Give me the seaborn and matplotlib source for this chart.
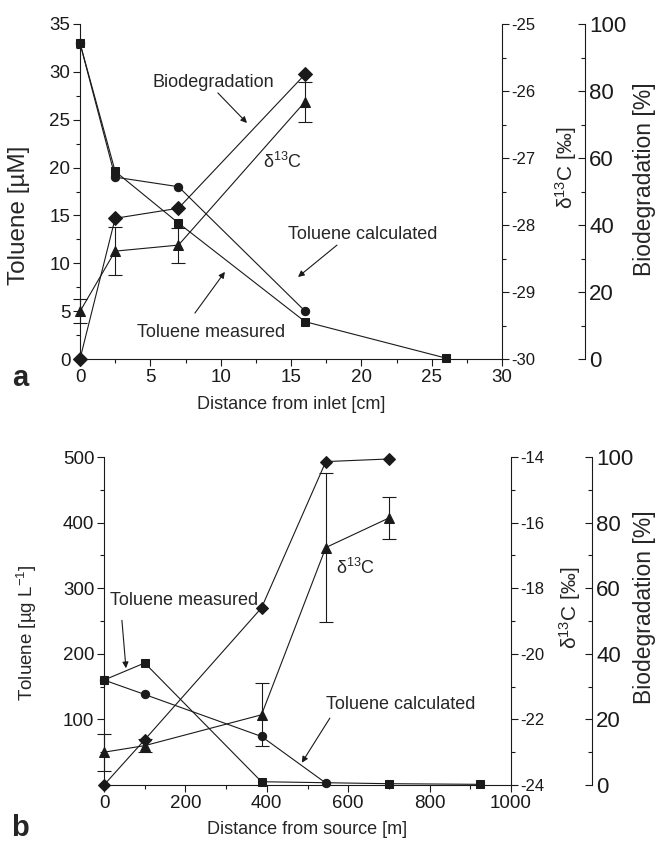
import matplotlib
matplotlib.use("Agg")
import matplotlib.pyplot as plt
import numpy as np
import seaborn as sns
from matplotlib.ticker import MultipleLocator, FixedLocator

# ---- panel a: column experiment ----
a_dist_meas = [0, 2.5, 7, 16, 26]
a_tol_meas = [33, 19.6, 14.2, 3.9, 0.1]
a_dist_calc = [0, 2.5, 7, 16]
a_tol_calc = [33, 19.0, 18.0, 5.0]
a_dist_d13c = [0, 2.5, 7, 16]
a_d13c = [-29.29, -28.39, -28.30, -26.16]
a_d13c_err = [0.18, 0.36, 0.26, 0.30]
a_dist_bio = [0, 2.5, 7, 16]
a_bio = [0, 42, 45, 85]

# ---- panel b: field site ----
b_dist_meas = [0, 100, 387, 700, 925]
b_tol_meas = [160, 186, 5, 2, 1]
b_dist_calc = [0, 100, 387, 545]
b_tol_calc = [160, 138, 74, 3]
b_dist_d13c = [0, 100, 387, 545, 700]
b_d13c = [-23.0, -22.8, -21.86, -16.76, -15.86]
b_d13c_err = [0.56, 0.2, 0.96, 2.26, 0.64]
b_dist_bio = [0, 100, 387, 545, 700]
b_bio = [0, 13.8, 54, 98.6, 99.4]

sns.set_theme(style="ticks")
plt.rcParams["font.family"] = ["Liberation Sans", "DejaVu Sans"]
plt.rcParams["mathtext.default"] = "regular"
plt.rcParams["axes.unicode_minus"] = False

fig = plt.figure(figsize=(6.56, 8.42), dpi=100)
W, H = 656, 842


def make_axes(left, right, bottom, top):
    return fig.add_axes([left / W, 1 - bottom / H, (right - left) / W, (bottom - top) / H])


lw = 0.8
mk = dict(color="k", lw=lw, markeredgecolor="k", markerfacecolor="k", clip_on=False)
ebar = dict(fmt="none", ecolor="k", elinewidth=lw, capsize=5, capthick=lw, clip_on=False)


def style_axes(ax, ax2, ax3, offset):
    for a in (ax, ax2, ax3):
        a.set_facecolor("none")
        a.grid(False)
        for s in a.spines.values():
            s.set_linewidth(lw)
            s.set_color("k")
        a.spines["top"].set_visible(False)
    ax.spines["right"].set_visible(False)
    ax2.spines["left"].set_visible(False)
    ax2.spines["bottom"].set_visible(False)
    ax3.spines["left"].set_visible(False)
    ax3.spines["bottom"].set_visible(False)
    ax3.spines["right"].set_position(("axes", offset))
    ax.tick_params(which="major", direction="out", length=5, width=lw, labelsize=13.5, color="k", pad=2)
    ax.tick_params(which="minor", direction="out", length=3, width=lw, color="k")
    ax2.tick_params(which="major", direction="out", length=5, width=lw, labelsize=12, color="k", pad=2)
    ax2.tick_params(which="minor", direction="out", length=3, width=lw, color="k")
    ax3.tick_params(which="major", direction="in", length=5, width=lw, labelsize=16, color="k", pad=3)
    ax3.tick_params(which="minor", direction="in", length=3, width=lw, color="k")
    ax3.yaxis.set_major_locator(MultipleLocator(20))
    ax3.yaxis.set_minor_locator(MultipleLocator(10))
    ax3.set_ylim(0, 100)


# ================= panel a =================
ax = make_axes(80, 502, 359, 24)
ax2 = ax.twinx()
ax3 = ax.twinx()
style_axes(ax, ax2, ax3, 1 + 83 / 422)

sns.lineplot(x=a_dist_meas, y=a_tol_meas, marker="s", markersize=5.5, ax=ax, **mk)
sns.lineplot(x=a_dist_calc, y=a_tol_calc, marker="o", markersize=6, ax=ax, **mk)
ax2.errorbar(a_dist_d13c, a_d13c, yerr=a_d13c_err, **ebar)
sns.lineplot(x=a_dist_d13c, y=a_d13c, marker="^", markersize=7, ax=ax2, **mk)
sns.lineplot(x=a_dist_bio, y=a_bio, marker="D", markersize=7, ax=ax3, **mk)

ax.set_xlim(0, 30)
ax.set_ylim(0, 35)
ax.xaxis.set_major_locator(MultipleLocator(5))
ax.xaxis.set_minor_locator(MultipleLocator(2.5))
ax.yaxis.set_major_locator(MultipleLocator(5))
ax.yaxis.set_minor_locator(MultipleLocator(2.5))
ax2.set_ylim(-30, -25)
ax2.yaxis.set_major_locator(MultipleLocator(1))
ax2.yaxis.set_minor_locator(MultipleLocator(0.5))

ax.set_xlabel("Distance from inlet [cm]", fontsize=13)
ax.xaxis.set_label_coords(0.5, -0.11)
ax.set_ylabel("Toluene [µM]", fontsize=17.5)
ax.yaxis.set_label_coords(-0.118, 0.43)
ax2.set_ylabel("δ$^{13}$C [‰]", fontsize=15)
ax2.yaxis.set_label_coords(1.121, 0.57)
ax3.set_ylabel("Biodegradation [%]", fontsize=16.5)
ax3.yaxis.set_label_coords(1.31, 0.537)

arrow = dict(arrowstyle="-|>", color="k", lw=lw, mutation_scale=9, shrinkA=0, shrinkB=0)
ax.text(9.45, 28.9, "Biodegradation", fontsize=13, ha="center", va="center")
ax.annotate("", xy=(11.87, 24.66), xytext=(9.8, 27.8), arrowprops=arrow)
ax.text(14.4, 20.6, "δ$^{13}$C", fontsize=13, ha="center", va="center")
ax.text(20.1, 13.0, "Toluene calculated", fontsize=13, ha="center", va="center")
ax.annotate("", xy=(15.5, 8.57), xytext=(18.27, 11.9), arrowprops=arrow)
ax.text(9.3, 2.8, "Toluene measured", fontsize=13, ha="center", va="center")
ax.annotate("", xy=(10.3, 9.1), xytext=(8.17, 4.8), arrowprops=arrow)

fig.text(20 / W, 1 - 378 / H, "a", fontsize=21, fontweight="bold", ha="center", va="center")

# ================= panel b =================
bx = make_axes(104, 511, 785, 457)
bx2 = bx.twinx()
bx3 = bx.twinx()
style_axes(bx, bx2, bx3, 1 + 81 / 407)

sns.lineplot(x=b_dist_meas, y=b_tol_meas, marker="s", markersize=5.5, ax=bx, **mk)
sns.lineplot(x=b_dist_calc, y=b_tol_calc, marker="o", markersize=6, ax=bx, **mk)
bx2.errorbar(b_dist_d13c, b_d13c, yerr=b_d13c_err, **ebar)
sns.lineplot(x=b_dist_d13c, y=b_d13c, marker="^", markersize=7, ax=bx2, **mk)
sns.lineplot(x=b_dist_bio, y=b_bio, marker="D", markersize=6.5, ax=bx3, **mk)

bx.set_xlim(0, 1000)
bx.set_ylim(0, 500)
bx.xaxis.set_major_locator(MultipleLocator(200))
bx.xaxis.set_minor_locator(MultipleLocator(100))
bx.yaxis.set_major_locator(FixedLocator([100, 200, 300, 400, 500]))
bx.yaxis.set_minor_locator(FixedLocator([50, 150, 250, 350, 450]))
bx2.set_ylim(-24, -14)
bx2.yaxis.set_major_locator(MultipleLocator(2))
bx2.yaxis.set_minor_locator(MultipleLocator(1))

bx.set_xlabel("Distance from source [m]", fontsize=13)
bx.xaxis.set_label_coords(0.5, -0.11)
bx.set_ylabel("Toluene [µg L$^{-1}$]", fontsize=13.5)
bx.yaxis.set_label_coords(-0.16, 0.463)
bx2.set_ylabel("δ$^{13}$C [‰]", fontsize=15)
bx2.yaxis.set_label_coords(1.113, 0.54)
bx3.set_ylabel("Biodegradation [%]", fontsize=16.5)
bx3.yaxis.set_label_coords(1.30, 0.543)

bx.text(197, 282, "Toluene measured", fontsize=13, ha="center", va="center")
bx.annotate("", xy=(54, 178), xytext=(44, 251), arrowprops=arrow)
bx.text(619, 331, "δ$^{13}$C", fontsize=13, ha="center", va="center")
bx.text(730, 122, "Toluene calculated", fontsize=13, ha="center", va="center")
bx.annotate("", xy=(486, 34), xytext=(555, 102), arrowprops=arrow)

fig.text(20 / W, 1 - 828 / H, "b", fontsize=21, fontweight="bold", ha="center", va="center")

for a in (ax, ax2, ax3, bx, bx2, bx3):
    for lab in a.get_xticklabels() + a.get_yticklabels():
        lab.set_color("k")

fig.savefig("out.png", dpi=100)
